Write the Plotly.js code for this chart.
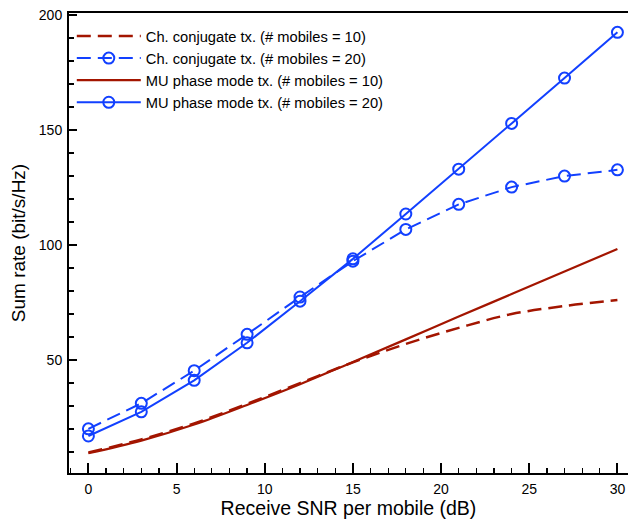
<!DOCTYPE html>
<html>
<head>
<meta charset="utf-8">
<script src="https://cdn.plot.ly/plotly-3.0.1.min.js"></script>
<style>html,body{margin:0;padding:0;background:#fff;}#chart{width:628px;height:519px;}</style>
</head>
<body>
<div id="chart"></div>
<script>
const snr = [0, 3, 6, 9, 12, 15, 18, 21, 24, 27, 30];
const cc10 = [9.8, 15.5, 22.5, 31, 40, 49, 57, 64, 70, 73.5, 76.1];
const cc20 = [20.1, 31.2, 45.4, 61.2, 77.4, 93, 106.8, 117.7, 125.2, 130, 132.7];
const mu10 = [9.5, 15, 22, 30.5, 39.5, 49.2, 59, 68.9, 78.7, 88.5, 98.3];
const mu20 = [17, 27.5, 41.2, 57.5, 75.6, 94, 113.5, 133, 152.9, 172.6, 192.5];
const names = [
  'Ch. conjugate tx. (# mobiles = 10)',
  'Ch. conjugate tx. (# mobiles = 20)',
  'MU phase mode tx. (# mobiles = 10)',
  'MU phase mode tx. (# mobiles = 20)'
];
const red = '#a31500';
const blue = '#1240ff';
const marker = {symbol: 'circle-open', size: 11, color: blue, line: {width: 2, color: blue}};
const traces = [
  {x: snr, y: cc10, name: names[0], mode: 'lines', line: {color: red, width: 2.5, dash: '14px,7px', shape: 'spline'}},
  {x: snr, y: cc20, name: names[1], mode: 'lines+markers', line: {color: blue, width: 2, dash: '14px,7px'}, marker: marker},
  {x: snr, y: mu10, name: names[2], mode: 'lines', line: {color: red, width: 2.2, shape: 'spline'}},
  {x: snr, y: mu20, name: names[3], mode: 'lines+markers', line: {color: blue, width: 2}, marker: marker}
];
const font = {family: 'Liberation Sans, Arial, sans-serif', color: '#000'};
const layout = {
  width: 628, height: 519,
  margin: {l: 68.5, r: 0, t: 13, b: 46},
  paper_bgcolor: '#fff', plot_bgcolor: '#fff',
  font: Object.assign({size: 14}, font),
  showlegend: true,
  legend: {x: 0.005, y: 0.985, xanchor: 'left', yanchor: 'top', bgcolor: 'rgba(255,255,255,0)',
           font: Object.assign({size: 14.7}, font), tracegroupgap: 0, itemwidth: 64},
  xaxis: {
    range: [-1.1, 30.6], showgrid: false, zeroline: false,
    showline: true, linecolor: '#000', linewidth: 2, mirror: true,
    ticks: 'inside', ticklen: 10, tickwidth: 2, tickcolor: '#000', dtick: 5, tick0: 0,
    minor: {ticks: 'inside', ticklen: 5, tickwidth: 1.3, tickcolor: '#000', dtick: 1, showgrid: false},
    tickfont: Object.assign({size: 14}, font), ticklabelstandoff: 2,
    title: {text: 'Receive SNR per mobile (dB)', font: Object.assign({size: 19.5}, font), standoff: 7}
  },
  yaxis: {
    range: [0.9, 200.9], showgrid: false, zeroline: false,
    showline: true, linecolor: '#000', linewidth: 2,
    ticks: 'inside', ticklen: 8, tickwidth: 2, tickcolor: '#000', tickvals: [50, 100, 150, 200],
    minor: {ticks: 'inside', ticklen: 5, tickwidth: 1.3, tickcolor: '#000', tickvals: [10,20,30,40,60,70,80,90,110,120,130,140,160,170,180,190], showgrid: false},
    tickfont: Object.assign({size: 14}, font), ticklabelstandoff: 2,
    title: {text: 'Sum rate (bit/s/Hz)', font: Object.assign({size: 19}, font), standoff: 8}
  }
};
Plotly.newPlot('chart', traces, layout, {displayModeBar: false, staticPlot: true});
</script>
</body>
</html>
